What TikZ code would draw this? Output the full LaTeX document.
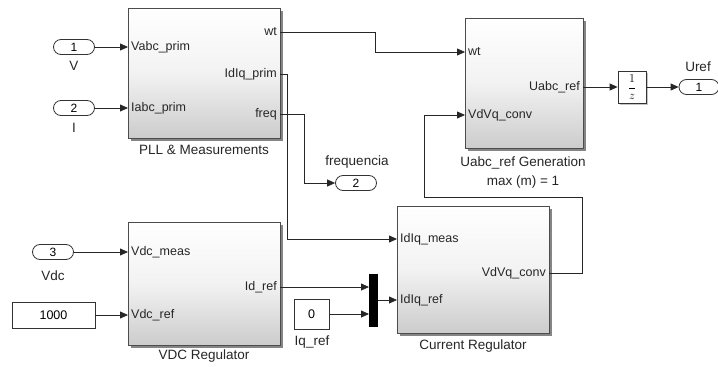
\documentclass[tikz,border=0pt]{standalone}
\usepackage{amsmath}
\usepackage{fontspec}
\setmainfont{Liberation Sans}
\usetikzlibrary{arrows.meta,shadows}
\begin{document}
\begin{tikzpicture}[x=1pt,y=-1pt,
  sig/.style={draw=black!85,line width=0.8pt,-{Triangle[length=8pt,width=7pt]}},
  blk/.style={draw=black!70,line width=0.8pt,top color=white,bottom color=black!20,middle color=white!95!black,
    drop shadow={shadow xshift=2.5pt,shadow yshift=-2.5pt,fill=black!60,opacity=0.8},inner sep=0pt},
  port/.style={draw=black!80,line width=0.8pt,fill=white,rounded corners=7.5pt,minimum width=41pt,minimum height=15pt,inner sep=0pt,font=\fontsize{12}{12}\selectfont},
  cst/.style={draw=black!80,line width=0.8pt,fill=white,inner sep=0pt,font=\fontsize{12.5}{12.5}\selectfont},
  pin/.style={anchor=west,inner sep=0pt,font=\fontsize{12.5}{12.5}\selectfont,text=black!85},
  pout/.style={anchor=east,inner sep=0pt,font=\fontsize{12.5}{12.5}\selectfont,text=black!85},
  lbl/.style={inner sep=0pt,font=\fontsize{13.5}{13.5}\selectfont,text=black!85}]
\useasboundingbox (0,0) rectangle (718,367);

% blocks
\node[blk,minimum width=152pt,minimum height=130pt] (pll) at (204,73) {};
\node[blk,minimum width=118pt,minimum height=130pt] (uabc) at (524,83) {};
\node[blk,minimum width=152pt,minimum height=123pt] (vdc) at (204,283.5) {};
\node[blk,minimum width=152pt,minimum height=127pt] (cur) at (473,269.5) {};
\node[draw=black!80,line width=0.8pt,fill=white,minimum width=28pt,minimum height=32pt,inner sep=0pt,
  drop shadow={shadow xshift=1.5pt,shadow yshift=-1.5pt,fill=black!45}] (delay) at (632,87)
  {\fontsize{13}{13}\selectfont$\genfrac{}{}{0.6pt}{0}{1}{z}$};
\node[fill=black,minimum width=9pt,minimum height=53pt,inner sep=0pt] (mux) at (373.5,300.5) {};
\node[cst,minimum width=83pt,minimum height=26pt] (c1000) at (53.5,315) {1000};
\node[cst,minimum width=35pt,minimum height=30pt] (c0) at (311.5,314) {0};

% ports
\node[port] (in1) at (74,47) {1};
\node[port] (in2) at (74,108) {2};
\node[port] (in3) at (53,252) {3};
\node[port] (out2) at (356,183) {2};
\node[port,minimum width=40pt] (out1) at (699,87) {1};

% port coordinates
\coordinate (pllA) at (128,47);
\coordinate (pllB) at (128,108);
\coordinate (pllwt) at (280,32);
\coordinate (pllidiq) at (280,74);
\coordinate (pllfreq) at (280,114);
\coordinate (uwt) at (465,52);
\coordinate (uvdvq) at (465,115);
\coordinate (uout) at (583,87);
\coordinate (vmeas) at (128,252);
\coordinate (vref) at (128,315);
\coordinate (vid) at (280,287);
\coordinate (cmeas) at (397,239);
\coordinate (cref) at (397,300);
\coordinate (cout) at (549,273);
\coordinate (muxa) at (369,287);
\coordinate (muxb) at (369,314);
\coordinate (muxo) at (378,300);

% in-block labels
\node[pin] at (pllA) [xshift=3pt] {Vabc\_prim};
\node[pin] at (pllB) [xshift=3pt] {Iabc\_prim};
\node[pout] at (pllwt) [xshift=-3pt] {wt};
\node[pout] at (pllidiq) [xshift=-3pt] {IdIq\_prim};
\node[pout] at (pllfreq) [xshift=-3pt] {freq};
\node[pin] at (uwt) [xshift=3pt] {wt};
\node[pin] at (uvdvq) [xshift=3pt] {VdVq\_conv};
\node[pout] at (uout) [xshift=-3pt] {Uabc\_ref};
\node[pin] at (vmeas) [xshift=3pt] {Vdc\_meas};
\node[pin] at (vref) [xshift=3pt] {Vdc\_ref};
\node[pout] at (vid) [xshift=-3pt] {Id\_ref};
\node[pin] at (cmeas) [xshift=3pt] {IdIq\_meas};
\node[pin] at (cref) [xshift=3pt] {IdIq\_ref};
\node[pout] at (cout) [xshift=-3pt] {VdVq\_conv};

% outside labels
\node[lbl] (lV) at (74,66) {V};
\node[lbl] (lI) at (74,128) {I};
\node[lbl] (lVdc) at (53,276) {Vdc};
\node[lbl] (lfreq) at (357,162) {frequencia};
\node[lbl] (lUref) at (698,67) {Uref};
\node[lbl] (lIq) at (312,342) {Iq\_ref};
\node[lbl] (lpll) at (204,150) {PLL \& Measurements};
\node[lbl] (lu1) at (523,163) {Uabc\_ref Generation};
\node[lbl] (lu2) at (523,182) {max (m) = 1};
\node[lbl] (lvdc) at (204,356) {VDC Regulator};
\node[lbl] (lcur) at (473,346) {Current Regulator};

% connections
\draw[sig] (in1.east) -- (pllA);
\draw[sig] (in2.east) -- (pllB);
\draw[sig] (pllwt) -- (375,32) -- (375,52) -- (uwt);
\draw[sig] (pllidiq) -- (287,74) -- (287,239) -- (cmeas);
\draw[sig] (pllfreq) -- (304,114) -- (304,183) -- (out2.west);
\draw[sig] (uout) -- (delay.west);
\draw[sig] (delay.east) -- (out1.west);
\draw[sig] (cout) -- (582,273) -- (582,197) -- (424,197) -- (424,115) -- (uvdvq);
\draw[sig] (in3.east) -- (vmeas);
\draw[sig] (c1000.east) -- (vref);
\draw[sig] (vid) -- (muxa);
\draw[sig] (c0.east) -- (muxb);
\draw[sig] (muxo) -- (cref);
\end{tikzpicture}
\end{document}
